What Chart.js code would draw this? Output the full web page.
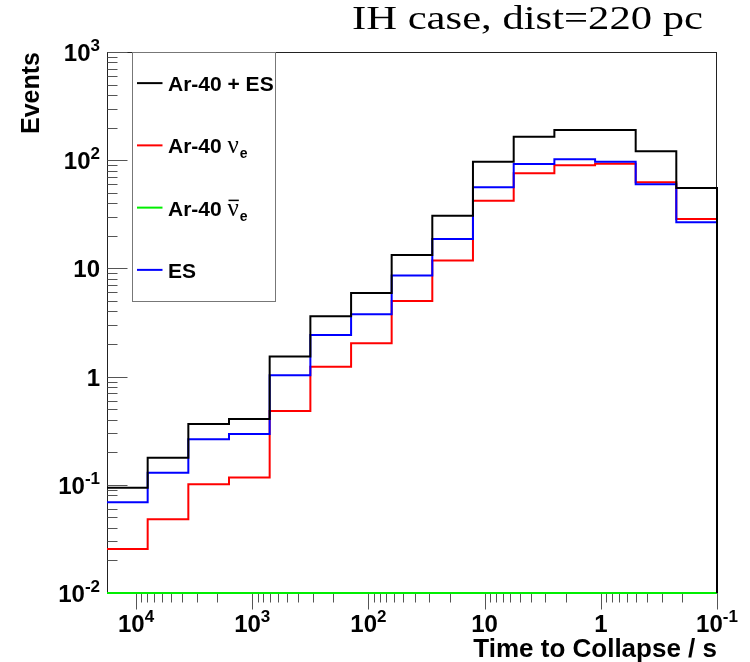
<!DOCTYPE html>
<html>
<head>
<meta charset="utf-8">
<script src="https://cdn.jsdelivr.net/npm/chart.js@4.4.1/dist/chart.umd.min.js"></script>
<style>
  html, body { margin: 0; padding: 0; background: #ffffff; }
  #wrap { width: 750px; height: 662px; }
</style>
</head>
<body>
<div id="wrap"><canvas id="c" width="750" height="662"></canvas></div>
<script>
// ---------------- data ----------------
const chartTitle = 'IH case, dist=220 pc';
const xAxisTitle = 'Time to Collapse / s';
const yAxisTitle = 'Events';

// bin edges (time to collapse, s), from left (earliest) to right
const binEdges = [17783, 7943, 3548, 1585, 708, 316, 141, 63.1, 28.2, 12.6, 5.62, 2.51, 1.12, 0.501, 0.224, 0.1];

const seriesNames = ['Ar-40 + ES', 'Ar-40 \u03BDe', 'Ar-40 \u03BD\u0304e', 'ES'];
const seriesColors = ['#000000', '#ff0000', '#00ee00', '#0000ff'];

const arPlusEs   = [0.094, 0.178, 0.365, 0.406, 1.53, 3.61, 5.93, 13.3, 30.7, 96.9, 165, 190, 190, 121, 55.3];
const ar40Nue    = [0.0255, 0.048, 0.101, 0.117, 0.48, 1.23, 2.03, 5.0, 11.8, 42.3, 75.7, 89.7, 92.9, 62.5, 28.6];
const ar40NueBar = [0.01, 0.01, 0.01, 0.01, 0.01, 0.01, 0.01, 0.01, 0.01, 0.01, 0.01, 0.01, 0.01, 0.01, 0.01];
const esEvents   = [0.069, 0.129, 0.263, 0.295, 1.03, 2.42, 3.77, 8.6, 18.7, 56.2, 92.2, 102, 97, 59.9, 26.7];

// tick labels as [mantissa, exponent]
const xTickValues = [10000, 1000, 100, 10, 1, 0.1];
const xTickLabels = [['10', '4'], ['10', '3'], ['10', '2'], ['10', ''], ['1', ''], ['10', '-1']];
const yTickValues = [0.01, 0.1, 1, 10, 100, 1000];
const yTickLabels = [['10', '-2'], ['10', '-1'], ['1', ''], ['10', ''], ['10', '2'], ['10', '3']];

const yMin = 0.01, yMax = 1000;
const xMin = 0.1, xMax = binEdges[0];

// ---------------- helpers ----------------
function histPoints(values) {
  const pts = values.map((v, i) => ({ x: binEdges[i], y: v }));
  const last = values.length - 1;
  pts.push({ x: binEdges[last + 1], y: values[last] });
  pts.push({ x: binEdges[last + 1], y: yMin });
  return pts;
}

const SANS = '"Liberation Sans", Arial, Helvetica, "DejaVu Sans", sans-serif';
const SERIF = '"Liberation Serif", "Times New Roman", Times, serif';
Chart.defaults.font.family = SANS;
Chart.defaults.color = '#000';

function mkDataset(i, values, order) {
  return {
    label: seriesNames[i],
    data: histPoints(values),
    borderColor: seriesColors[i],
    backgroundColor: seriesColors[i],
    borderWidth: 2,
    pointRadius: 0,
    pointHoverRadius: 0,
    fill: false,
    stepped: 'before',
    tension: 0,
    borderJoinStyle: 'miter',
    borderCapStyle: 'butt',
    clip: 2,
    order: order
  };
}

// ---------------- plugins ----------------
const bgPlugin = {
  id: 'bg',
  beforeDraw(chart) {
    const ctx = chart.ctx;
    ctx.save();
    ctx.fillStyle = '#ffffff';
    ctx.fillRect(0, 0, chart.width, chart.height);
    ctx.restore();
  }
};

const framePlugin = {
  id: 'frame',
  beforeDatasetsDraw(chart) {
    const ctx = chart.ctx, ca = chart.chartArea;
    const xs = chart.scales.x, ys = chart.scales.y;
    ctx.save();
    ctx.lineWidth = 1;
    ctx.strokeStyle = '#222';
    const L = Math.round(ca.left) + 0.5, R = Math.round(ca.right) - 0.5;
    const T = Math.round(ca.top) + 0.5, B = Math.round(ca.bottom) - 0.5;
    ctx.strokeRect(L, T, R - L, B - T);
    // y ticks (inside the frame)
    ctx.beginPath();
    for (let n = -2; n <= 3; n++) {
      for (let m = 1; m <= 9; m++) {
        const v = m * Math.pow(10, n);
        if (v < ys.min * 0.999 || v > ys.max * 1.001) continue;
        const y = Math.round(ys.getPixelForValue(v)) + 0.5;
        const len = m === 1 ? 20 : 10;
        ctx.moveTo(L, y);
        ctx.lineTo(L + len, y);
      }
    }
    ctx.strokeStyle = '#555';
    ctx.stroke();
    // x ticks (below the axis)
    ctx.beginPath();
    for (let n = -1; n <= 4; n++) {
      for (let m = 1; m <= 9; m++) {
        const v = m * Math.pow(10, n);
        if (v < xs.min * 0.999 || v > xs.max * 1.001) continue;
        const x = Math.round(xs.getPixelForValue(v)) + 0.5;
        const len = m === 1 ? 17 : 10;
        ctx.moveTo(x, B);
        ctx.lineTo(x, B + len);
      }
    }
    ctx.stroke();
    ctx.restore();
  }
};

const legendRows = [
  [{ t: 'Ar-40 + ES', k: 'b' }],
  [{ t: 'Ar-40 ', k: 'b' }, { t: '\u03BD', k: 'g' }, { t: 'e', k: 's' }],
  [{ t: 'Ar-40 ', k: 'b' }, { t: '\u03BD', k: 'g', bar: true }, { t: 'e', k: 's' }],
  [{ t: 'ES', k: 'b' }]
];

function drawPow(ctx, base, exp, x, baseline, align) {
  const bf = 'bold 24px ' + SANS, ef = 'bold 17px ' + SANS;
  ctx.font = bf;
  const wb = ctx.measureText(base).width;
  ctx.font = ef;
  const we = exp ? ctx.measureText(exp).width : 0;
  const total = wb + we;
  let x0 = align === 'right' ? x - total : x - total / 2;
  ctx.textAlign = 'left';
  ctx.textBaseline = 'alphabetic';
  ctx.font = bf;
  ctx.fillText(base, x0, baseline);
  if (exp) {
    ctx.font = ef;
    ctx.fillText(exp, x0 + wb, baseline - 10);
  }
}

const overlayPlugin = {
  id: 'overlay',
  afterDraw(chart) {
    const ctx = chart.ctx, ca = chart.chartArea;
    const xs = chart.scales.x, ys = chart.scales.y;
    ctx.save();
    ctx.fillStyle = '#000';
    // tick labels
    xTickValues.forEach((v, i) => {
      const x = xs.getPixelForValue(v);
      drawPow(ctx, xTickLabels[i][0], xTickLabels[i][1], x, ca.bottom + 39, 'center');
    });
    yTickValues.forEach((v, i) => {
      const y = ys.getPixelForValue(v);
      drawPow(ctx, yTickLabels[i][0], yTickLabels[i][1], ca.left - 7, y + 9, 'right');
    });
    // x axis title
    ctx.font = 'bold 26px ' + SANS;
    ctx.textAlign = 'right';
    ctx.textBaseline = 'alphabetic';
    ctx.fillText(xAxisTitle, ca.right, 657);

    // legend box
    const bx = Math.round(ca.left + 25) + 0.5, by = Math.round(ca.top) + 0.5;
    const bw = 143, bh = 249;
    ctx.strokeStyle = '#777';
    ctx.lineWidth = 1;
    ctx.strokeRect(bx, by, bw, bh);
    const rowH = bh / 4;
    for (let i = 0; i < 4; i++) {
      const cy = by + rowH * (i + 0.5) - 0.5;
      ctx.strokeStyle = seriesColors[i];
      ctx.lineWidth = 2;
      ctx.beginPath();
      ctx.moveTo(bx + 4.5, cy);
      ctx.lineTo(bx + 30, cy);
      ctx.stroke();
      let x = bx + 35.5;
      const base = cy + 8;
      ctx.fillStyle = '#000';
      ctx.textBaseline = 'alphabetic';
      ctx.textAlign = 'left';
      for (const p of legendRows[i]) {
        let yb = base;
        if (p.k === 'b') ctx.font = 'bold 21px ' + SANS;
        else if (p.k === 'g') ctx.font = '25px ' + SERIF;
        else { ctx.font = 'bold 14px ' + SANS; yb = base + 5; }
        const w = ctx.measureText(p.t).width;
        ctx.fillText(p.t, x, yb);
        if (p.bar) {
          ctx.fillRect(x + 1, base - 16, w - 1, 1.5);
        }
        x += w + (p.k === 'g' ? 1 : 0);
      }
    }
    // title
    ctx.font = '34px ' + SERIF;
    ctx.fillStyle = '#000';
    ctx.textAlign = 'left';
    ctx.textBaseline = 'alphabetic';
    const tw = ctx.measureText(chartTitle).width;
    ctx.translate(352, 29);
    ctx.scale(351 / tw, 1);
    ctx.fillText(chartTitle, 0, 0);
    ctx.restore();
  }
};

// ---------------- chart ----------------
const ctx = document.getElementById('c').getContext('2d');
new Chart(ctx, {
  type: 'line',
  data: {
    datasets: [
      mkDataset(0, arPlusEs, 0),
      mkDataset(1, ar40Nue, 2),
      mkDataset(2, ar40NueBar, 3),
      mkDataset(3, esEvents, 1)
    ]
  },
  options: {
    responsive: false,
    animation: false,
    devicePixelRatio: 1,
    layout: { padding: { left: 0, top: 52, right: 33, bottom: 0 } },
    plugins: {
      legend: { display: false },
      tooltip: { enabled: false },
      title: { display: false }
    },
    scales: {
      x: {
        type: 'logarithmic',
        reverse: true,
        min: xMin,
        max: xMax,
        position: 'bottom',
        grid: { display: false, drawTicks: false },
        border: { display: false },
        afterBuildTicks(scale) { scale.ticks = xTickValues.map(v => ({ value: v })); },
        afterFit(scale) { scale.height = 69; scale.paddingLeft = 0; scale.paddingRight = 0; },
        ticks: { display: false, autoSkip: false, maxRotation: 0, minRotation: 0 },
        title: { display: false, text: xAxisTitle }
      },
      y: {
        type: 'logarithmic',
        min: yMin,
        max: yMax,
        position: 'left',
        grid: { display: false, drawTicks: false },
        border: { display: false },
        afterBuildTicks(scale) { scale.ticks = yTickValues.map(v => ({ value: v })); },
        afterFit(scale) { scale.width = 107; scale.paddingTop = 0; scale.paddingBottom = 0; },
        ticks: { display: false, autoSkip: false },
        title: {
          display: true,
          text: yAxisTitle,
          align: 'end',
          color: '#000',
          font: { size: 25, weight: 'bold', family: SANS, lineHeight: 1.2 },
          padding: { top: 17, bottom: 0 }
        }
      }
    }
  },
  plugins: [bgPlugin, framePlugin, overlayPlugin]
});
</script>
</body>
</html>
